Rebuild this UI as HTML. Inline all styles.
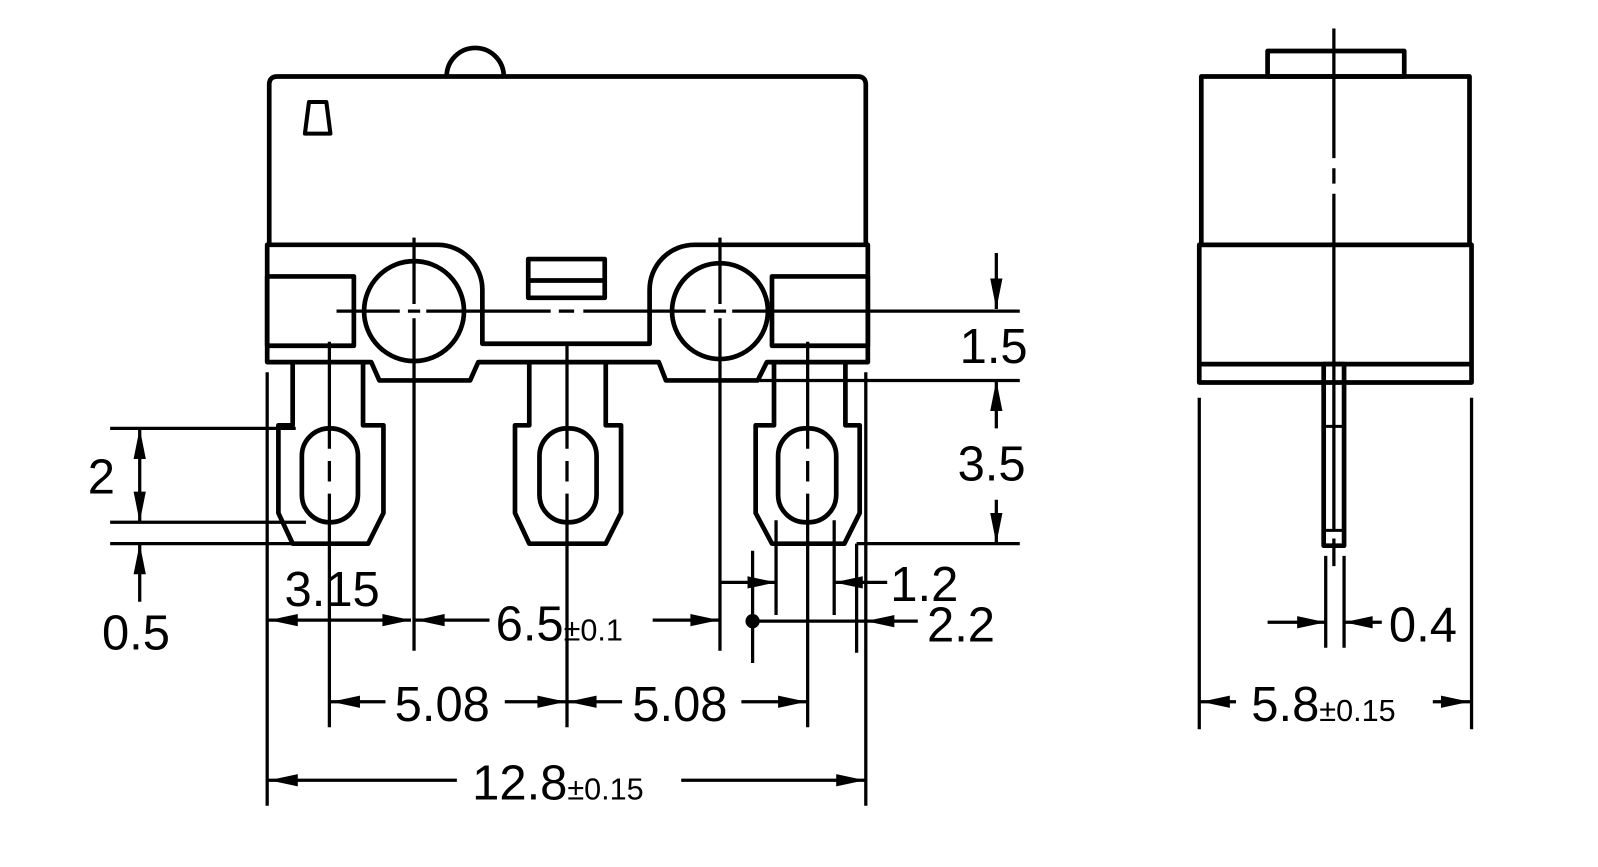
<!DOCTYPE html>
<html><head><meta charset="utf-8"><style>
html,body{margin:0;padding:0;background:#fff;}
svg{display:block;}
text{font-family:"Liberation Sans",Arial,sans-serif;fill:#000;}
</style></head><body>
<svg width="1598" height="867" viewBox="0 0 1567 850" preserveAspectRatio="none" xmlns="http://www.w3.org/2000/svg">
<g fill="none" stroke="#000" stroke-width="4.6" stroke-linejoin="round">
<path d="M438,75 A28,28 0 0 1 494,75"/>
<path d="M264,240 V83 Q264,75 272,75 H841 Q849,75 849,83 V240"/>
<path d="M303,100 H320 L324,131 H299 Z" stroke-width="4"/>
<path d="M262,240 H430 A44,44 0 0 1 473,284 V337 H637 V284 A44,44 0 0 1 681,240 H851 V355 H752 L743,373 H653 L646,355 H469 L461,373 H372 L364,355 H262 Z"/>
<rect x="262" y="271" width="85" height="68"/>
<rect x="757" y="271" width="94" height="68"/>
<circle cx="406" cy="305" r="49"/>
<circle cx="706" cy="305" r="47"/>
<rect x="518" y="254" width="75" height="38"/>
<line x1="518" y1="275" x2="593" y2="275"/>
<path d="M287,355 V417 H273 V503 L287,533 H361 L376,503 V417 H356 V355"/>
<rect x="296" y="420" width="55" height="92" rx="27"/>
<path d="M519,355 V417 H505 V503 L519,533 H594 L609,503 V417 H594 V355"/>
<rect x="529" y="420" width="56" height="92" rx="27"/>
<path d="M759,355 V417 H741 V503 L757,533 H828 L843,503 V417 H829 V355"/>
<rect x="763" y="420" width="57" height="92" rx="27"/>
<rect x="1243" y="50" width="134" height="25"/>
<rect x="1178" y="75" width="263" height="165"/>
<rect x="1176" y="240" width="267" height="135"/>
<line x1="1176" y1="357" x2="1443" y2="357"/>
<rect x="1298" y="357" width="20" height="178"/>
<line x1="1298" y1="418" x2="1318" y2="418" stroke-width="3"/>
<line x1="1298" y1="520" x2="1318" y2="520" stroke-width="3"/>
</g>

<g fill="none" stroke="#000" stroke-width="3.2">
<path d="M330,305 H392 M400,305 H412 M418,305 H540 M548,305 H563 M572,305 H692 M700,305 H712 M718,305 H1000"/>
<path d="M406,233 V298 M406,312 V638"/>
<path d="M706,233 V298 M706,312 V638"/>
<path d="M323,335 V440 M323,452 V472 M323,484 V713"/>
<path d="M556,335 V440 M556,452 V472 M556,484 V713"/>
<path d="M792,335 V440 M792,452 V472 M792,484 V713"/>
<path d="M1308,28 V155 M1308,165 V180 M1308,190 V520 M1308,528 V555"/>
<path d="M108,420 H290 M108,512 H300 M108,533 H290"/>
<path d="M137,420 V512 M137,533 V590"/>
<path d="M745,373 H1000 M840,533 H1000 M840,533 V640"/>
<path d="M977,248 V303 M977,373 V420 M977,490 V533"/>
<path d="M262,365 V790 M849,365 V790"/>
<path d="M738,540 V650 M761,510 V603 M818,510 V603"/>
<path d="M1176,390 V715 M1443,390 V715 M1300,545 V635 M1318,545 V635"/>
<path d="M262,608 H403 M406,608 H480 M640,608 H706"/>
<path d="M706,571 H761 M818,571 H870"/>
<path d="M738,609 H900"/>
<path d="M323,688 H378 M495,688 H556 M556,688 H610 M727,688 H792"/>
<path d="M262,765 H448 M668,765 H849"/>
<path d="M1243,610 H1300 M1318,610 H1355"/>
<path d="M1176,688 H1212 M1405,688 H1443"/>
</g>

<g fill="#000" stroke="none">
<circle cx="738" cy="609" r="7"/>
<polygon points="137,420 131,450 143,450"/>
<polygon points="137,512 131,482 143,482"/>
<polygon points="137,533 131,563 143,563"/>
<polygon points="977,303 971,273 983,273"/>
<polygon points="977,373 971,403 983,403"/>
<polygon points="977,533 971,503 983,503"/>
<polygon points="264,608 292,602 292,614"/>
<polygon points="403,608 375,602 375,614"/>
<polygon points="408,608 436,602 436,614"/>
<polygon points="705,608 677,602 677,614"/>
<polygon points="761,571 733,565 733,577"/>
<polygon points="818,571 846,565 846,577"/>
<polygon points="849,609 877,603 877,615"/>
<polygon points="325,688 353,682 353,694"/>
<polygon points="555,688 527,682 527,694"/>
<polygon points="557,688 585,682 585,694"/>
<polygon points="791,688 763,682 763,694"/>
<polygon points="264,765 292,759 292,771"/>
<polygon points="848,765 820,759 820,771"/>
<polygon points="1300,610 1272,604 1272,616"/>
<polygon points="1318,610 1346,604 1346,616"/>
<polygon points="1178,688 1206,682 1206,694"/>
<polygon points="1441,688 1413,682 1413,694"/>
</g>

<g font-size="48">
<text x="86" y="484">2</text>
<text x="100" y="637">0.5</text>
<text x="279" y="594">3.15</text>
<text x="486" y="628">6.5<tspan font-size="30">±0.1</tspan></text>
<text x="387" y="707">5.08</text>
<text x="620" y="707">5.08</text>
<text x="463" y="784">12.8<tspan font-size="30">±0.15</tspan></text>
<text x="941" y="356">1.5</text>
<text x="939" y="471">3.5</text>
<text x="873" y="589">1.2</text>
<text x="909" y="629">2.2</text>
<text x="1362" y="629">0.4</text>
<text x="1227" y="707">5.8<tspan font-size="30">±0.15</tspan></text>
</g>
</svg>
</body></html>
